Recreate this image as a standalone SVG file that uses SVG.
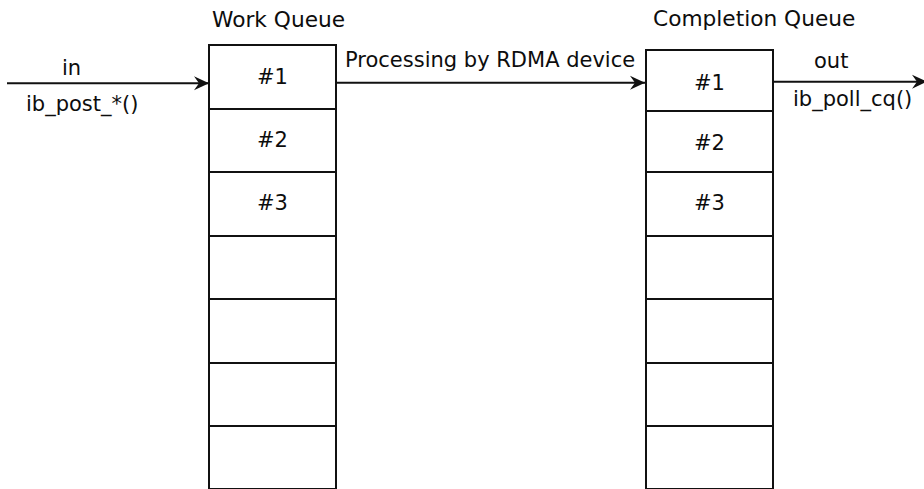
<svg xmlns="http://www.w3.org/2000/svg" width="924" height="489" viewBox="0 0 924 489">
  <style>
    text { font-family: "DejaVu Sans", "Liberation Sans", sans-serif; font-size: 21px; fill: #0d0d0d; }
    .title { font-size: 21.7px; }
    .box { fill: #fff; stroke: #111; stroke-width: 2; }
    .div { stroke: #111; stroke-width: 2; }
    .mid { text-anchor: middle; }
    .conn { stroke: #111; stroke-width: 2; fill: none; }
  </style>
  <defs>
    <marker id="arr" markerUnits="userSpaceOnUse" markerWidth="18" markerHeight="16" viewBox="-16 -8 18 16" refX="0" refY="0" orient="auto">
      <path d="M0,0 L-15,-7 L-10,0 L-15,7 Z" fill="#111"/>
    </marker>
  </defs>
  <rect width="924" height="489" fill="#fff"/>

  <g id="work-queue">
    <text class="title" x="212" y="27">Work Queue</text>
    <rect class="box" x="209" y="45" width="127" height="444"/>
    <line class="div" x1="209" y1="109" x2="336" y2="109"/>
    <line class="div" x1="209" y1="172" x2="336" y2="172"/>
    <line class="div" x1="209" y1="236" x2="336" y2="236"/>
    <line class="div" x1="209" y1="299" x2="336" y2="299"/>
    <line class="div" x1="209" y1="363" x2="336" y2="363"/>
    <line class="div" x1="209" y1="426" x2="336" y2="426"/>
    <text class="mid" x="272.5" y="84">#1</text>
    <text class="mid" x="272.5" y="147">#2</text>
    <text class="mid" x="272.5" y="210">#3</text>
  </g>

  <g id="completion-queue">
    <text class="title" x="653" y="26">Completion Queue</text>
    <rect class="box" x="646" y="50" width="127" height="439"/>
    <line class="div" x1="646" y1="111" x2="773" y2="111"/>
    <line class="div" x1="646" y1="172" x2="773" y2="172"/>
    <line class="div" x1="646" y1="236" x2="773" y2="236"/>
    <line class="div" x1="646" y1="299" x2="773" y2="299"/>
    <line class="div" x1="646" y1="363" x2="773" y2="363"/>
    <line class="div" x1="646" y1="426" x2="773" y2="426"/>
    <text class="mid" x="709.5" y="90">#1</text>
    <text class="mid" x="709.5" y="150">#2</text>
    <text class="mid" x="709.5" y="210">#3</text>
  </g>

  <g id="connectors">
    <line class="conn" x1="7" y1="83.3" x2="209" y2="83.3" marker-end="url(#arr)"/>
    <text x="62" y="75">in</text>
    <text x="26" y="111">ib_post_*()</text>
    <line class="conn" x1="336" y1="82.7" x2="645" y2="82.7" marker-end="url(#arr)"/>
    <text x="345" y="67">Processing by RDMA device</text>
    <line class="conn" x1="773" y1="81.7" x2="927" y2="81.7" marker-end="url(#arr)"/>
    <text x="814" y="68">out</text>
    <text x="793" y="106">ib_poll_cq()</text>
  </g>
</svg>
